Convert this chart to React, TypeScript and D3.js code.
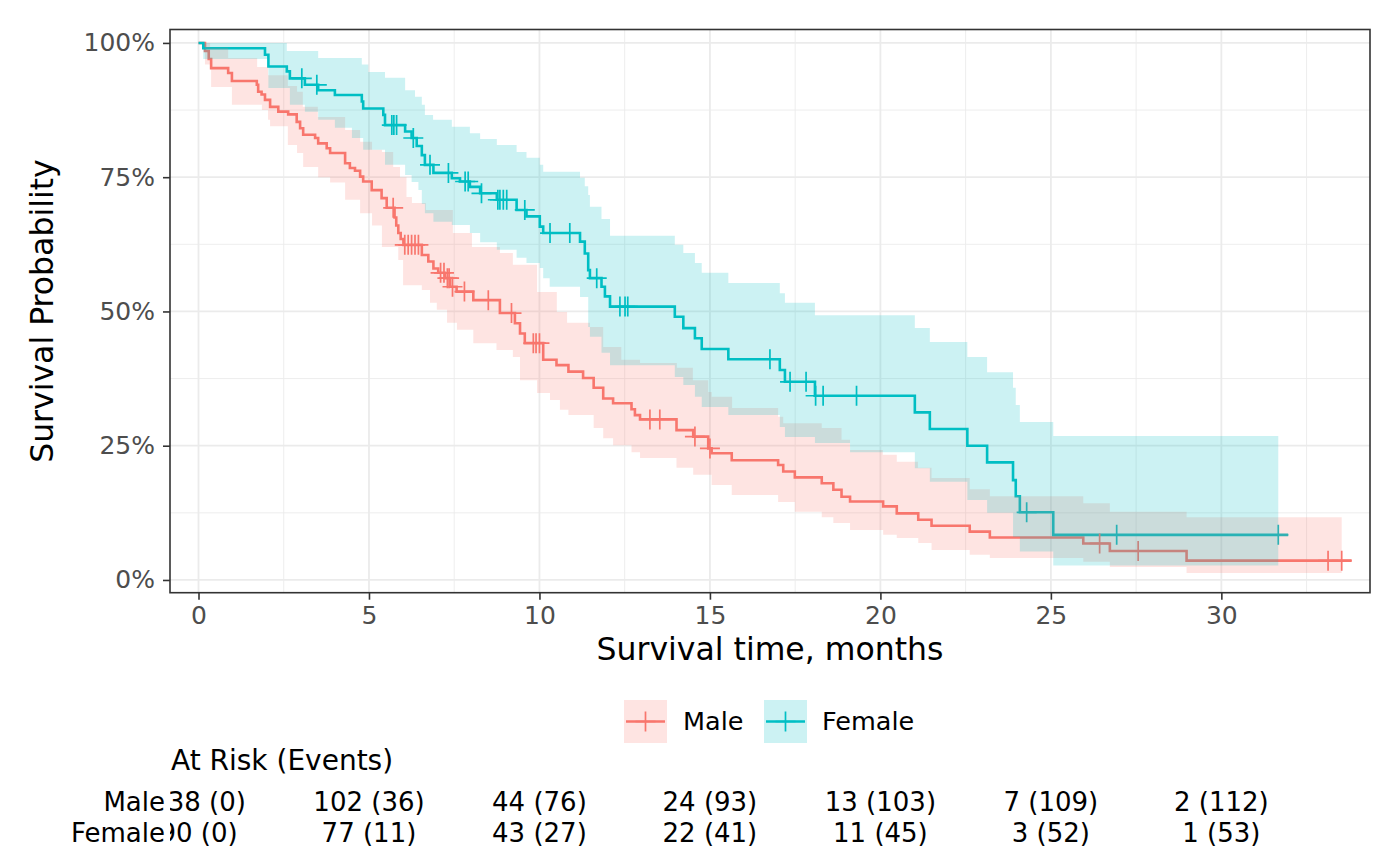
import React, { useEffect } from 'react';
import * as d3 from 'd3';

// Kaplan-Meier estimates: [time in months, survival]
const maleCurve = [
  [0, 1], [0.19, 0.985], [0.3, 0.97], [0.37, 0.953], [0.87, 0.944], [0.98, 0.929],
  [1.71, 0.922], [1.75, 0.909], [1.85, 0.904], [1.95, 0.894], [2.1, 0.881], [2.34, 0.872],
  [2.63, 0.867], [2.88, 0.853], [2.98, 0.841], [3.07, 0.829], [3.42, 0.823], [3.51, 0.813],
  [3.76, 0.804], [3.86, 0.795], [4.3, 0.776], [4.44, 0.767], [4.59, 0.762], [4.74, 0.751],
  [4.83, 0.742], [5.08, 0.726], [5.37, 0.711], [5.52, 0.693], [5.75, 0.675], [5.8, 0.66],
  [5.86, 0.646], [5.93, 0.635], [6.01, 0.624], [6.55, 0.605], [6.74, 0.593], [6.89, 0.58],
  [7.03, 0.572], [7.23, 0.562], [7.38, 0.546], [7.57, 0.537], [8.06, 0.521], [8.84, 0.497],
  [9.28, 0.478], [9.43, 0.459], [9.57, 0.441], [10.11, 0.41], [10.5, 0.4], [10.85, 0.388],
  [11.28, 0.376], [11.59, 0.358], [11.87, 0.338], [12.16, 0.329], [12.7, 0.318], [12.8, 0.307],
  [12.95, 0.299], [14.02, 0.279], [14.51, 0.267], [14.95, 0.245], [15.05, 0.236], [15.64, 0.223],
  [17.0, 0.214], [17.15, 0.202], [17.49, 0.191], [18.28, 0.18], [18.62, 0.168], [18.86, 0.155],
  [19.11, 0.146], [20.08, 0.137], [20.48, 0.124], [21.11, 0.112], [21.5, 0.101], [22.62, 0.09],
  [23.21, 0.079], [25.95, 0.068], [26.73, 0.054], [28.98, 0.036], [33.82, 0.036],
];
const maleUpper = [
  [0, 1], [0.34, 0.991], [0.87, 0.972], [1.72, 0.955], [2.04, 0.94], [2.62, 0.92], [2.89, 0.909],
  [3.06, 0.881], [3.5, 0.862], [4.3, 0.838], [4.74, 0.816], [5.09, 0.801], [5.38, 0.797],
  [5.71, 0.769], [5.91, 0.75], [6.1, 0.713], [6.26, 0.702], [6.67, 0.689], [7.46, 0.646],
  [8.02, 0.62], [8.84, 0.609], [9.22, 0.587], [9.93, 0.536], [10.51, 0.499], [10.81, 0.479],
  [11.48, 0.471], [11.87, 0.434], [12.4, 0.41], [12.95, 0.404], [14.03, 0.395], [14.5, 0.372],
  [14.95, 0.35], [15.05, 0.341], [15.65, 0.32], [17.0, 0.304], [17.15, 0.292], [18.28, 0.283],
  [18.86, 0.261], [19.11, 0.242], [20.07, 0.233], [20.48, 0.22], [21.1, 0.209], [21.5, 0.19],
  [22.62, 0.169], [23.21, 0.156], [25.95, 0.143], [26.73, 0.127], [28.98, 0.117], [33.53, 0.117],
];
const maleLower = [
  [0, 1], [0.19, 0.96], [0.37, 0.918], [0.98, 0.885], [1.86, 0.875], [2.04, 0.857], [2.1, 0.845],
  [2.62, 0.81], [2.89, 0.795], [3.07, 0.769], [3.51, 0.75], [3.86, 0.74], [4.3, 0.708],
  [4.74, 0.683], [5.09, 0.66], [5.38, 0.62], [5.86, 0.596], [6.0, 0.549], [6.55, 0.54],
  [6.79, 0.516], [6.99, 0.503], [7.29, 0.479], [7.58, 0.466], [8.06, 0.441], [8.74, 0.428],
  [9.22, 0.415], [9.43, 0.372], [9.93, 0.348], [10.31, 0.335], [10.6, 0.317], [10.85, 0.307],
  [11.59, 0.283], [11.87, 0.264], [12.16, 0.251], [12.7, 0.238], [12.95, 0.227], [14.02, 0.209],
  [14.51, 0.196], [15.05, 0.177], [15.64, 0.158], [17.0, 0.145], [17.49, 0.127], [18.28, 0.117],
  [18.62, 0.106], [19.11, 0.093], [20.08, 0.084], [20.48, 0.078], [21.11, 0.069], [21.5, 0.056],
  [22.62, 0.047], [23.21, 0.041], [25.95, 0.034], [26.73, 0.024], [28.98, 0.013], [33.53, 0.013],
];
const maleCensor = [
  5.71, 6.05, 6.15, 6.25, 6.35, 6.45, 7.1, 7.2, 7.3, 7.35, 7.45, 7.8, 8.5, 9.18, 9.82, 9.9, 10.0,
  13.24, 13.53, 14.56, 15.0, 26.43, 27.56, 33.13, 33.53,
];

const femaleCurve = [
  [0, 1], [0.14, 0.99], [1.95, 0.978], [2.05, 0.956], [2.59, 0.947], [2.68, 0.934], [3.12, 0.922],
  [3.51, 0.912], [4.0, 0.903], [4.79, 0.891], [4.83, 0.878], [5.42, 0.866], [5.47, 0.847],
  [6.06, 0.835], [6.25, 0.823], [6.4, 0.808], [6.55, 0.791], [6.64, 0.773], [6.89, 0.758],
  [7.43, 0.748], [7.67, 0.742], [7.96, 0.732], [8.26, 0.72], [8.75, 0.708], [9.33, 0.689],
  [9.62, 0.677], [10.01, 0.658], [10.11, 0.646], [11.19, 0.63], [11.33, 0.608], [11.43, 0.577],
  [11.48, 0.562], [11.82, 0.546], [11.92, 0.528], [12.07, 0.509], [13.97, 0.49], [14.22, 0.469],
  [14.56, 0.45], [14.76, 0.43], [15.54, 0.411], [17.05, 0.391], [17.2, 0.369], [18.08, 0.343],
  [21.01, 0.312], [21.45, 0.281], [22.55, 0.25], [23.13, 0.219], [23.89, 0.186], [23.97, 0.156],
  [24.09, 0.126], [25.07, 0.084], [31.96, 0.084],
];
const femaleUpper = [
  [0, 1], [2.59, 0.985], [3.51, 0.972], [4.79, 0.96], [4.98, 0.946], [5.47, 0.935], [6.06, 0.912],
  [6.35, 0.9], [6.55, 0.885], [6.64, 0.866], [6.88, 0.857], [7.43, 0.844], [7.96, 0.832],
  [8.26, 0.821], [8.75, 0.81], [9.33, 0.797], [9.62, 0.786], [10.01, 0.773], [10.11, 0.76],
  [11.19, 0.749], [11.33, 0.733], [11.43, 0.717], [11.48, 0.695], [11.82, 0.672], [12.07, 0.641],
  [13.97, 0.624], [14.22, 0.609], [14.56, 0.59], [14.76, 0.572], [15.54, 0.553], [17.05, 0.534],
  [17.2, 0.516], [18.08, 0.493], [21.01, 0.469], [21.45, 0.443], [22.55, 0.415], [23.13, 0.387],
  [23.89, 0.358], [23.97, 0.326], [24.09, 0.294], [25.07, 0.268], [31.67, 0.268],
];
const femaleLower = [
  [0, 1], [0.14, 0.97], [2.05, 0.916], [2.68, 0.885], [3.12, 0.872], [3.51, 0.857], [4.0, 0.842],
  [4.5, 0.823], [4.83, 0.801], [5.47, 0.773], [6.06, 0.754], [6.25, 0.741], [6.45, 0.726],
  [6.55, 0.7], [6.64, 0.683], [6.89, 0.667], [7.43, 0.661], [7.96, 0.646], [8.26, 0.629],
  [8.75, 0.615], [9.33, 0.6], [9.62, 0.59], [10.01, 0.581], [10.11, 0.562], [10.3, 0.546],
  [11.19, 0.527], [11.43, 0.471], [11.48, 0.453], [11.82, 0.423], [12.07, 0.4], [13.97, 0.378],
  [14.22, 0.363], [14.56, 0.341], [14.76, 0.322], [15.54, 0.307], [17.05, 0.285], [17.2, 0.266],
  [18.08, 0.255], [19.11, 0.238], [21.01, 0.208], [21.45, 0.183], [22.55, 0.149], [23.13, 0.125],
  [23.89, 0.08], [24.09, 0.053], [25.07, 0.027], [31.67, 0.027],
];
const femaleCensor = [
  3.03, 3.47, 5.67, 5.73, 5.81, 6.3, 6.79, 7.33, 7.82, 7.91, 8.3, 8.78, 8.84, 8.94, 9.04, 9.57,
  10.31, 10.89, 11.68, 12.36, 12.51, 12.59, 16.76, 17.35, 17.82, 18.1, 18.32, 19.3, 24.29,
  26.93, 31.67,
];

const xTicks = [0, 5, 10, 15, 20, 25, 30];
const yTicks = [0, 0.25, 0.5, 0.75, 1];
const riskTimes = [0, 5, 10, 15, 20, 25, 30];
const maleRisk = ['138 (0)', '102 (36)', '44 (76)', '24 (93)', '13 (103)', '7 (109)', '2 (112)'];
const femaleRisk = ['90 (0)', '77 (11)', '43 (27)', '22 (41)', '11 (45)', '3 (52)', '1 (53)'];

const App = () => {
  useEffect(() => {
    d3.select('#chart').select('svg').remove();
    const width = 1400,
      height = 866;
    const panel = { left: 170, right: 1370, top: 29.5, bottom: 592.7 };
    const font = '"DejaVu Sans", Verdana, sans-serif';

    const svg = d3
      .select('#chart')
      .append('svg')
      .attr('width', width)
      .attr('height', height)
      .style('position', 'absolute')
      .style('left', '0px')
      .style('top', '0px')
      .style('font-family', font);

    svg.append('rect').attr('width', width).attr('height', height).attr('fill', '#fff');

    const x = d3.scaleLinear().domain([-0.836, 34.36]).range([panel.left, panel.right]);
    const y = d3.scaleLinear().domain([-0.0237, 1.025]).range([panel.bottom, panel.top]);

    const groups = [
      { name: 'Male', color: '#F8766D', curve: maleCurve, upper: maleUpper, lower: maleLower, censor: maleCensor },
      { name: 'Female', color: '#00BFC4', curve: femaleCurve, upper: femaleUpper, lower: femaleLower, censor: femaleCensor },
    ];

    // grid
    const grid = svg.append('g');
    const minorX = xTicks.map((t) => t + 2.5);
    const minorY = yTicks.slice(0, -1).map((t) => t + 0.125);
    const vLines = (vals: number[], w: number) =>
      grid
        .append('g')
        .selectAll('line')
        .data(vals)
        .enter()
        .append('line')
        .attr('x1', (d) => x(d))
        .attr('x2', (d) => x(d))
        .attr('y1', panel.top)
        .attr('y2', panel.bottom)
        .attr('stroke', '#EBEBEB')
        .attr('stroke-width', w);
    const hLines = (vals: number[], w: number) =>
      grid
        .append('g')
        .selectAll('line')
        .data(vals)
        .enter()
        .append('line')
        .attr('x1', panel.left)
        .attr('x2', panel.right)
        .attr('y1', (d) => y(d))
        .attr('y2', (d) => y(d))
        .attr('stroke', '#EBEBEB')
        .attr('stroke-width', w);
    vLines(minorX, 0.9);
    hLines(minorY, 0.9);
    vLines(xTicks, 1.8);
    hLines(yTicks, 1.8);

    const step = d3
      .line<number[]>()
      .curve(d3.curveStepAfter)
      .x((d) => x(d[0]))
      .y((d) => y(d[1]));

    const survAt = (curve: number[][], t: number) => {
      const i = d3.bisectRight(curve.map((d) => d[0]), t) - 1;
      return curve[Math.max(0, i)][1];
    };

    // lines and censor marks first, ribbons drawn over them (as in the source plot)
    groups.forEach((g) => {
      svg
        .append('path')
        .datum(g.curve)
        .attr('d', step)
        .attr('fill', 'none')
        .attr('stroke', g.color)
        .attr('stroke-width', 2.6);
    });
    groups.forEach((g) => {
      svg
        .append('g')
        .selectAll('path')
        .data(g.censor)
        .enter()
        .append('path')
        .attr('transform', (t) => 'translate(' + x(t) + ',' + y(survAt(g.curve, t)) + ')')
        .attr('d', 'M-10,0H10M0,-10V10')
        .attr('stroke', g.color)
        .attr('stroke-width', 1.7)
        .attr('fill', 'none');
    });
    groups.forEach((g) => {
      const times = Array.from(new Set([...g.upper.map((d) => d[0]), ...g.lower.map((d) => d[0])])).sort(
        (a, b) => a - b,
      );
      const rows = times.map((t) => ({ t, hi: survAt(g.upper, t), lo: survAt(g.lower, t) }));
      const area = d3
        .area<{ t: number; hi: number; lo: number }>()
        .curve(d3.curveStepAfter)
        .x((d) => x(d.t))
        .y0((d) => y(d.lo))
        .y1((d) => y(d.hi));
      svg.append('path').datum(rows).attr('d', area).attr('fill', g.color).attr('fill-opacity', 0.2);
    });

    // panel border
    svg
      .append('rect')
      .attr('x', panel.left)
      .attr('y', panel.top)
      .attr('width', panel.right - panel.left)
      .attr('height', panel.bottom - panel.top)
      .attr('fill', 'none')
      .attr('stroke', '#333333')
      .attr('stroke-width', 1.6);

    // axes
    const xAxis = svg
      .append('g')
      .attr('transform', 'translate(0,' + panel.bottom + ')')
      .call(d3.axisBottom(x).tickValues(xTicks).tickSize(7).tickPadding(7));
    const yAxis = svg
      .append('g')
      .attr('transform', 'translate(' + panel.left + ',0)')
      .call(
        d3
          .axisLeft(y)
          .tickValues(yTicks)
          .tickSize(7)
          .tickPadding(8)
          .tickFormat((d) => Math.round(+d * 100) + '%'),
      );
    [xAxis, yAxis].forEach((a) => {
      a.select('.domain').remove();
      a.selectAll('line').attr('stroke', '#333333').attr('stroke-width', 1.6);
      a.selectAll('text').attr('fill', '#4D4D4D').style('font-size', '25px').style('font-family', font);
    });

    svg
      .append('text')
      .attr('x', (panel.left + panel.right) / 2)
      .attr('y', 660)
      .attr('text-anchor', 'middle')
      .style('font-size', '31.5px')
      .text('Survival time, months');
    svg
      .append('text')
      .attr('transform', 'translate(53,' + (panel.top + panel.bottom) / 2 + ') rotate(-90)')
      .attr('text-anchor', 'middle')
      .style('font-size', '31.5px')
      .text('Survival Probability');

    // legend
    const legendItems = [
      { g: groups[0], keyX: 624, textX: 683 },
      { g: groups[1], keyX: 764, textX: 822 },
    ];
    legendItems.forEach(({ g, keyX, textX }) => {
      const lg = svg.append('g');
      lg.append('rect')
        .attr('x', keyX)
        .attr('y', 700)
        .attr('width', 43)
        .attr('height', 43)
        .attr('fill', g.color)
        .attr('fill-opacity', 0.2);
      lg.append('line')
        .attr('x1', keyX + 2)
        .attr('x2', keyX + 41)
        .attr('y1', 721.5)
        .attr('y2', 721.5)
        .attr('stroke', g.color)
        .attr('stroke-width', 2.6);
      lg.append('path')
        .attr('d', 'M' + (keyX + 11.5) + ',721.5H' + (keyX + 31.5) + 'M' + (keyX + 21.5) + ',711.5V731.5')
        .attr('stroke', g.color)
        .attr('stroke-width', 1.7);
      lg.append('text')
        .attr('x', textX)
        .attr('y', 721.5)
        .attr('dy', '0.35em')
        .style('font-size', '25.5px')
        .text(g.name);
    });

    // risk table: numbers are clipped at the panel's left edge, as in the source
    svg
      .append('text')
      .attr('x', 171)
      .attr('y', 770)
      .style('font-size', '28px')
      .text('At Risk (Events)');

    svg
      .append('clipPath')
      .attr('id', 'riskclip')
      .append('rect')
      .attr('x', panel.left)
      .attr('y', 770)
      .attr('width', panel.right - panel.left)
      .attr('height', 90);

    const rowY = [802, 833];
    [maleRisk, femaleRisk].forEach((row, r) => {
      svg
        .append('g')
        .attr('clip-path', 'url(#riskclip)')
        .selectAll('text')
        .data(row)
        .enter()
        .append('text')
        .attr('x', (_, i) => x(riskTimes[i]))
        .attr('y', rowY[r])
        .attr('dy', '0.35em')
        .attr('text-anchor', 'middle')
        .style('font-size', '26px')
        .text((d) => d);
      svg
        .append('text')
        .attr('x', 165)
        .attr('y', rowY[r])
        .attr('dy', '0.35em')
        .attr('text-anchor', 'end')
        .style('font-size', '26px')
        .text(groups[r].name);
    });
  }, []);

  return <div id="chart"></div>;
};

export default App;
